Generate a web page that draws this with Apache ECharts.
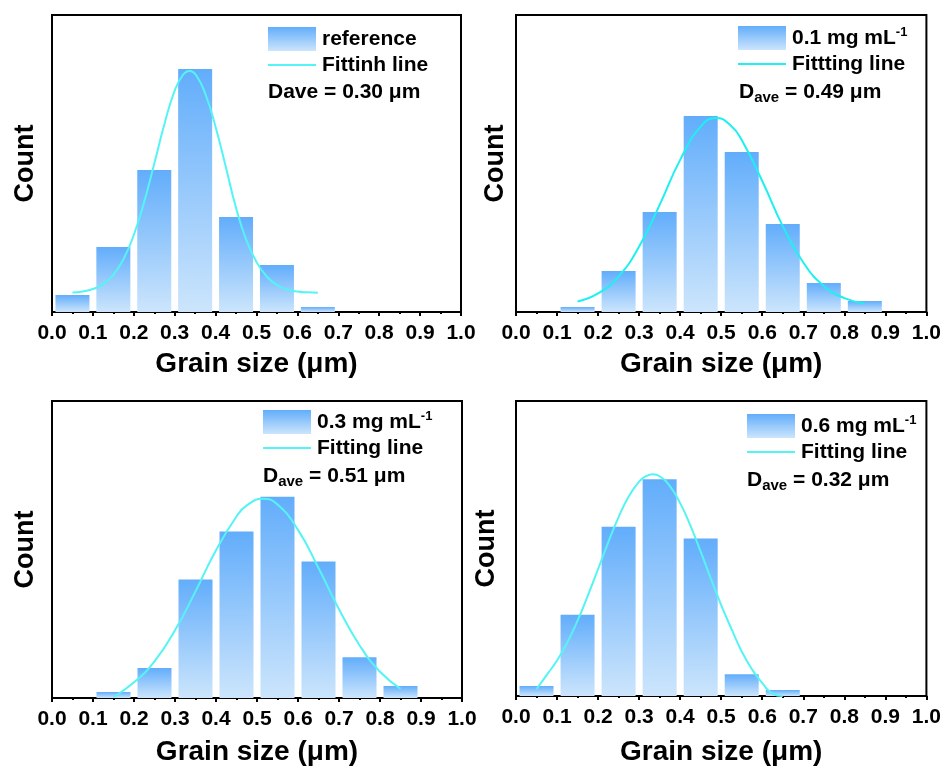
<!DOCTYPE html>
<html>
<head>
<meta charset="utf-8">
<title>Grain size distribution</title>
<script src="https://cdn.jsdelivr.net/npm/echarts@6.0.0/dist/echarts.min.js"></script>
<style>
html, body { margin: 0; padding: 0; background: #fff; }
#main { width: 944px; height: 767px; }
</style>
</head>
<body>
<div id="main"></div>
<script>
// histogram bins (grain size, um) - shared by all four panels
var binCenters = [0.05, 0.15, 0.25, 0.35, 0.45, 0.55, 0.65, 0.75, 0.85];

// counts per bin (axis has no labels, so units are arbitrary)
var counts1 = [17, 65, 142, 243, 95, 47, 5, 0, 0];
var counts2 = [0, 5, 41, 100, 196, 160, 88, 29, 11];
var counts3 = [0, 6, 30, 119, 167, 202, 137, 41, 12];
var counts4 = [10, 82, 171, 219, 159, 22, 6, 0, 0];

// fitted curves
var fitX1 = [0.05, 0.075, 0.1, 0.125, 0.15, 0.175, 0.2, 0.225, 0.25, 0.275, 0.3, 0.32, 0.336, 0.352, 0.375, 0.4, 0.425, 0.45, 0.475, 0.5, 0.525, 0.55, 0.575, 0.6, 0.625, 0.65];
var fitY1 = [19.6, 20.6, 23, 27.9, 37.2, 53, 77, 109.6, 148.2, 188, 221.4, 237, 241, 237, 218, 185, 145, 104, 72, 50, 35.5, 27, 22.5, 20.4, 19.7, 19.3];
var fitX2 = [0.15, 0.2, 0.25, 0.3, 0.35, 0.4, 0.45, 0.488, 0.525, 0.55, 0.6, 0.65, 0.7, 0.75, 0.8, 0.85];
var fitY2 = [10.6, 18.6, 35.7, 65.4, 107.1, 152.1, 185.4, 194, 185.8, 171.9, 131, 85.9, 49.5, 26.1, 13.9, 8.6];
var fitX3 = [0.15, 0.2, 0.25, 0.3, 0.35, 0.4, 0.45, 0.475, 0.514, 0.55, 0.6, 0.65, 0.7, 0.75, 0.8, 0.85];
var fitY3 = [1, 15.7, 36.8, 67.9, 107, 148.2, 182.1, 193.2, 200, 194.1, 168.7, 130.4, 89.1, 53, 26.3, 9.3];
var fitX4 = [0.05, 0.075, 0.1, 0.125, 0.15, 0.175, 0.2, 0.225, 0.25, 0.275, 0.3, 0.317, 0.333, 0.35, 0.375, 0.4, 0.425, 0.45, 0.475, 0.5, 0.525, 0.55, 0.575, 0.6, 0.625, 0.65];
var fitY4 = [7, 21.3, 35.8, 54.1, 76.1, 101.3, 128.3, 155.5, 180.7, 201.8, 216.6, 222.2, 224, 222, 212, 194.8, 172, 145.8, 118.4, 91.9, 67.8, 45, 27, 13, 2.5, 0];

// texts
var barLabels = ['reference', '0.1 mg mL{sup|-1}', '0.3 mg mL{sup|-1}', '0.6 mg mL{sup|-1}'];
var fitLabels = ['Fittinh line', 'Fittting line', 'Fitting line', 'Fitting line'];
var daveLabels = ['Dave = 0.30 μm', 'D{sub|ave} = 0.49 μm', 'D{sub|ave} = 0.51 μm', 'D{sub|ave} = 0.32 μm'];

var allCounts = [counts1, counts2, counts3, counts4];
var allFitX = [fitX1, fitX2, fitX3, fitX4];
var allFitY = [fitY1, fitY2, fitY3, fitY4];

// layout
var FONT = "'Liberation Sans', Arial, sans-serif";
var grids = [
  { left: 52, top: 15, width: 409, height: 297 },
  { left: 516, top: 15, width: 411, height: 297 },
  { left: 52, top: 401, width: 410, height: 298 },
  { left: 516, top: 401, width: 411, height: 298 }
];
// legend box: [left, top of gradient swatch]
var legendPos = [[268, 27], [738, 26], [263, 410], [747, 414]];
var davePos = [[268, 92], [739, 92], [263, 476], [747, 480]];
var countGap = [13, 7, 13, 16];
var grainGap = [38, 38, 40, 42];
var lineColors = ['#55f4f4', '#1ef0f0', '#55f4f4', '#55f4f4'];

function barGradient() {
  return new echarts.graphic.LinearGradient(0, 0, 0, 1, [
    { offset: 0, color: '#62adfb' },
    { offset: 1, color: '#cce5fc' }
  ]);
}

var myChart = echarts.init(document.getElementById('main'));

var option = {
  animation: false,
  backgroundColor: '#fff',
  grid: [],
  xAxis: [],
  yAxis: [],
  series: [],
  graphic: []
};

var textBase = { fill: '#000', fontSize: 21, fontWeight: 'bold', fontFamily: FONT, verticalAlign: 'middle' };

for (var i = 0; i < 4; i++) {
  var g = grids[i];
  option.grid.push({
    left: g.left, top: g.top, width: g.width, height: g.height,
    show: true, borderColor: '#000', borderWidth: 2
  });
  option.xAxis.push({
    type: 'value', gridIndex: i, min: 0, max: 1, interval: 0.1,
    name: 'Grain size (μm)', nameLocation: 'middle', nameGap: grainGap[i],
    nameTextStyle: { fontSize: 28, fontWeight: 'bold', color: '#000', fontFamily: FONT },
    axisLine: { lineStyle: { color: '#000', width: 2 } },
    axisTick: { show: true, inside: false, length: 4, lineStyle: { color: '#000', width: 2 } },
    minorTick: { show: true, splitNumber: 2, length: 2, lineStyle: { color: '#000', width: 2 } },
    axisLabel: {
      fontSize: 21, fontWeight: 'bold', color: '#000', fontFamily: FONT, margin: 11,
      formatter: function (v) { return v.toFixed(1); }
    },
    splitLine: { show: false }
  });
  option.yAxis.push({
    type: 'value', gridIndex: i, min: 0, max: g.height,
    name: 'Count', nameLocation: 'middle', nameGap: countGap[i],
    nameTextStyle: { fontSize: 27, fontWeight: 'bold', color: '#000', fontFamily: FONT },
    axisLine: { show: true, lineStyle: { color: '#000', width: 2 } },
    axisTick: { show: false },
    axisLabel: { show: false },
    splitLine: { show: false }
  });

  var counts = allCounts[i];
  var barData = [];
  for (var j = 0; j < binCenters.length; j++) {
    if (counts[j] > 0) barData.push([binCenters[j], counts[j]]);
  }
  var fx = allFitX[i], fy = allFitY[i];
  var lineData = [];
  for (var k = 0; k < fx.length; k++) lineData.push([fx[k], fy[k]]);

  option.series.push({
    name: 'bar' + i, type: 'bar', xAxisIndex: i, yAxisIndex: i,
    data: barData, barWidth: 34,
    itemStyle: { color: barGradient() }
  });
  option.series.push({
    name: 'fit' + i, type: 'line', xAxisIndex: i, yAxisIndex: i,
    data: lineData, smooth: true, symbol: 'none', z: 3,
    lineStyle: { color: lineColors[i], width: 2 }
  });

  // legend drawn by hand: swatch, line sample, two labels
  var lx = legendPos[i][0], ly = legendPos[i][1];
  option.graphic.push({
    type: 'rect', shape: { x: lx, y: ly, width: 48, height: 24 },
    style: { fill: barGradient() }
  });
  option.graphic.push({
    type: 'line', shape: { x1: lx, y1: ly + 38, x2: lx + 48, y2: ly + 38 },
    style: { stroke: lineColors[i], lineWidth: 2 }
  });
  option.graphic.push({
    type: 'text', x: lx + 54, y: ly + 12,
    style: Object.assign({}, textBase, {
      text: barLabels[i], lineHeight: 24,
      rich: { sup: { fill: '#000', fontSize: 13, fontWeight: 'bold', fontFamily: FONT, verticalAlign: 'top', lineHeight: 13 } }
    })
  });
  option.graphic.push({
    type: 'text', x: lx + 54, y: ly + 38,
    style: Object.assign({}, textBase, { text: fitLabels[i] })
  });

  option.graphic.push({
    type: 'text', x: davePos[i][0], y: davePos[i][1],
    style: Object.assign({}, textBase, {
      text: daveLabels[i], lineHeight: 26,
      rich: { sub: { fill: '#000', fontSize: 15, fontWeight: 'bold', fontFamily: FONT, verticalAlign: 'bottom', lineHeight: 15 } }
    })
  });
}

myChart.setOption(option);
</script>
</body>
</html>
